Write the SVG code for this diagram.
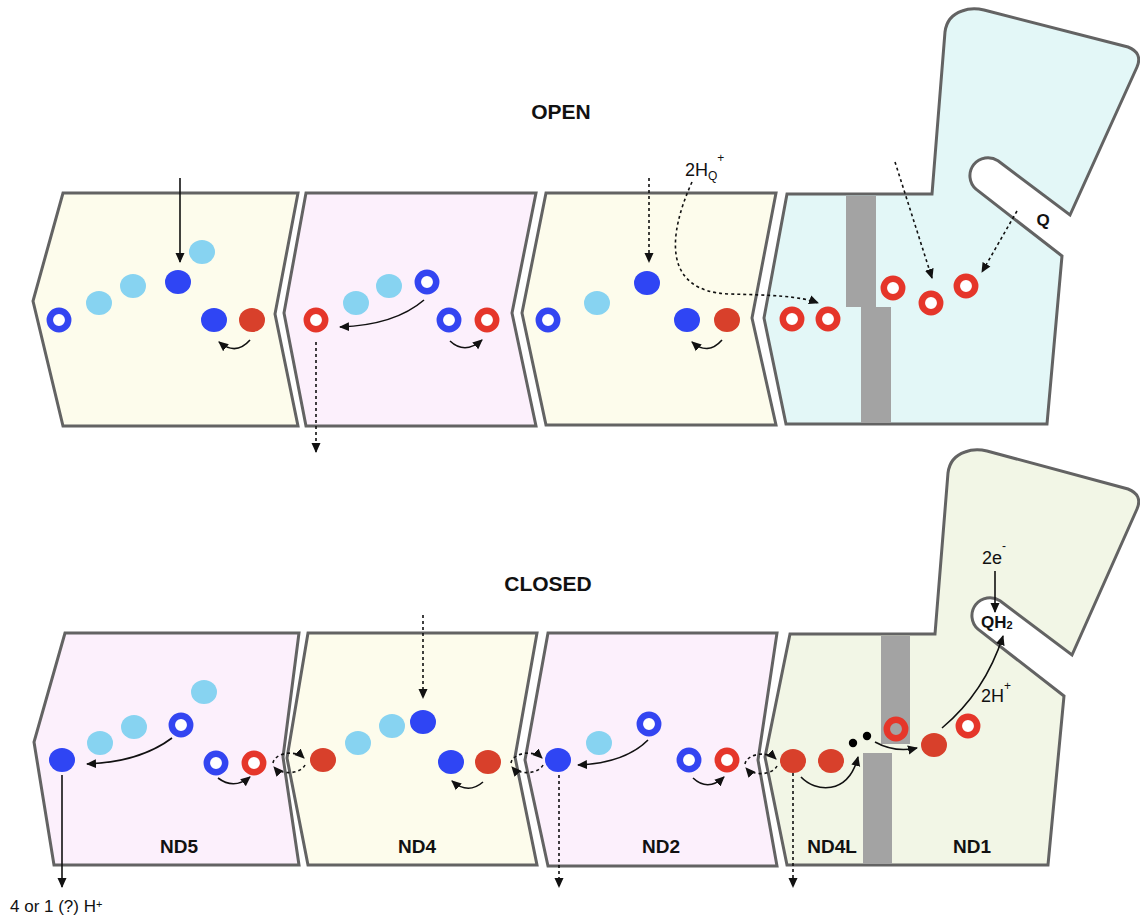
<svg xmlns="http://www.w3.org/2000/svg" width="1140" height="917" viewBox="0 0 1140 917">
  <defs>
    <marker id="ah" viewBox="0 0 10 10" refX="9" refY="5" markerWidth="10" markerHeight="10" markerUnits="userSpaceOnUse" orient="auto">
      <path d="M0,0.5 L10,5 L0,9.5 z" fill="#111"/>
    </marker>
    <style>
      .sub { stroke:#636363; stroke-width:3; stroke-linejoin:miter; }
      .yel { fill:#fdfcec; }
      .pnk { fill:#fcf0fc; }
      .cyn { fill:#e3f7f7; }
      .grn { fill:#f2f6e6; }
      .bar { fill:#a3a3a3; }
      .db { fill:#2f45f4; }
      .lb { fill:#87d3f1; }
      .rf { fill:#d8402b; }
      .br { fill:#fff; stroke:#3345f1; stroke-width:6.5; }
      .rr { fill:#fff; stroke:#e5362a; stroke-width:6.5; }
      .rro { fill:none; stroke:#e5362a; stroke-width:6.5; }
      .ar { fill:none; stroke:#111; stroke-width:1.6; marker-end:url(#ah); }
      .dt { stroke-dasharray:3 3; }
      .dot { fill:#000; }
      .title { font-family:"Liberation Sans", Arial, sans-serif; font-weight:bold; font-size:21px; text-anchor:middle; fill:#111; }
      .lbl { font-family:"Liberation Sans", Arial, sans-serif; font-weight:bold; font-size:19px; text-anchor:middle; fill:#111; }
      .txt { font-family:"Liberation Sans", Arial, sans-serif; font-size:18px; fill:#111; }
    </style>
  </defs>

  <rect width="1140" height="917" fill="#fff"/>

  <!-- state titles -->
  <text class="title" x="561" y="119">OPEN</text>
  <text class="title" x="548" y="591">CLOSED</text>

  <!-- ===== open state ===== -->
  <g id="open-nd5">
    <polygon class="sub yel" points="63,193 298,193 275,314 298,426 63,426 33,301"/>
    <circle class="br" cx="59" cy="320" r="9.2"/>
    <ellipse class="lb" cx="99" cy="303" rx="13" ry="12"/>
    <ellipse class="lb" cx="133" cy="286" rx="13" ry="12"/>
    <ellipse class="db" cx="178" cy="282" rx="13" ry="12"/>
    <ellipse class="lb" cx="202" cy="252" rx="13" ry="12"/>
    <ellipse class="db" cx="214" cy="320" rx="13" ry="12"/>
    <ellipse class="rf" cx="252" cy="320" rx="13" ry="12"/>
  </g>

  <g id="open-nd4">
    <polygon class="sub pnk" points="306,193 536,193 512,313 536,426 306,426 284,313"/>
    <circle class="rr" cx="316" cy="320" r="9.2"/>
    <ellipse class="lb" cx="356" cy="303" rx="13" ry="12"/>
    <ellipse class="lb" cx="389" cy="286" rx="13" ry="12"/>
    <circle class="br" cx="427" cy="282" r="9.2"/>
    <circle class="br" cx="449" cy="320" r="9.2"/>
    <circle class="rr" cx="487" cy="320" r="9.2"/>
  </g>

  <g id="open-nd2">
    <polygon class="sub yel" points="546,193 776,193 752,318 776,425 546,425 522,313"/>
    <circle class="br" cx="548" cy="320" r="9.2"/>
    <ellipse class="lb" cx="597" cy="303" rx="13" ry="12"/>
    <ellipse class="db" cx="647" cy="283" rx="13" ry="12"/>
    <ellipse class="db" cx="687" cy="320" rx="13" ry="12"/>
    <ellipse class="rf" cx="727" cy="320" rx="13" ry="12"/>
  </g>

  <g id="open-nd4l-nd1">
    <path class="sub cyn" d="M787,194 L932,194 L945,32 Q947,16 962,11 Q972,7 984,10 L1128,47 Q1143,53 1137,67 L1070,215 L998,160.8 A18,18 0 0 0 976,189.2 L1062,256 L1047,424 L786,424 L764,318 Z"/>
    <rect class="bar" x="846" y="196" width="30" height="111"/>
    <rect class="bar" x="861" y="307" width="30" height="116"/>
    <circle class="rr" cx="792" cy="319" r="9.2"/>
    <circle class="rr" cx="828" cy="319" r="9.2"/>
    <circle class="rr" cx="893" cy="288" r="9.2"/>
    <circle class="rr" cx="931" cy="303" r="9.2"/>
    <circle class="rr" cx="966" cy="286" r="9.2"/>
    <text class="lbl" x="1043" y="226" style="font-size:17px">Q</text>
  </g>

  <!-- ===== closed state ===== -->
  <g id="nd5">
    <polygon class="sub pnk" points="65,633 299,633 283,757 299,865 54,865 34,742"/>
    <ellipse class="db" cx="62" cy="760" rx="13" ry="12"/>
    <ellipse class="lb" cx="100" cy="743" rx="13" ry="12"/>
    <ellipse class="lb" cx="134" cy="727" rx="13" ry="12"/>
    <circle class="br" cx="181" cy="725" r="9.2"/>
    <ellipse class="lb" cx="204" cy="692" rx="13" ry="12"/>
    <circle class="br" cx="216" cy="763" r="9.2"/>
    <circle class="rr" cx="254" cy="763" r="9.2"/>
    <text class="lbl" x="179" y="853">ND5</text>
  </g>

  <g id="nd4">
    <polygon class="sub yel" points="308,633 537,633 515,757 537,865 308,865 287,758"/>
    <ellipse class="rf" cx="323" cy="760" rx="13" ry="12"/>
    <ellipse class="lb" cx="358" cy="743" rx="13" ry="12"/>
    <ellipse class="lb" cx="392" cy="726" rx="13" ry="12"/>
    <ellipse class="db" cx="423" cy="722" rx="13" ry="12"/>
    <ellipse class="db" cx="451" cy="762" rx="13" ry="12"/>
    <ellipse class="rf" cx="488" cy="762" rx="13" ry="12"/>
    <text class="lbl" x="417" y="853">ND4</text>
  </g>

  <g id="nd2">
    <polygon class="sub pnk" points="548,633 777,633 758,760 777,866 548,866 525,760"/>
    <ellipse class="db" cx="558" cy="760" rx="13" ry="12"/>
    <ellipse class="lb" cx="599" cy="743" rx="13" ry="12"/>
    <circle class="br" cx="649" cy="724" r="9.2"/>
    <circle class="br" cx="689" cy="760" r="9.2"/>
    <circle class="rr" cx="727" cy="760" r="9.2"/>
    <text class="lbl" x="661" y="853">ND2</text>
  </g>

  <g id="nd4l-nd1">
    <path class="sub grn" d="M790,634 L935,634 L948,473 Q950,457 965,452 Q975,448 987,451 L1128,489 Q1143,495 1137,509 L1072,655 L1000,600.8 A18,18 0 0 0 978,629.2 L1064,696 L1048,865 L787,865 L765,757 Z"/>
    <rect class="bar" x="881" y="636" width="29" height="108"/>
    <rect class="bar" x="863" y="753" width="29" height="111"/>
    <ellipse class="rf" cx="793" cy="761" rx="13" ry="12"/>
    <ellipse class="rf" cx="831" cy="761" rx="13" ry="12"/>
    <circle class="dot" cx="853" cy="743" r="4.2"/>
    <circle class="dot" cx="867" cy="736" r="4.2"/>
    <circle class="rro" cx="896" cy="729" r="9.2"/>
    <ellipse class="rf" cx="934" cy="745" rx="13" ry="12"/>
    <circle class="rr" cx="968" cy="726" r="9.2"/>
    <text class="lbl" x="832" y="853">ND4L</text>
    <text class="lbl" x="972" y="853">ND1</text>
    <text class="lbl" x="981" y="628" style="text-anchor:start;font-size:17px">QH<tspan style="font-size:11px" dy="1">2</tspan></text>
  </g>

  <!-- ===== connectors ===== -->
  <g id="connectors">
    <!-- open state -->
    <path class="ar" d="M180,178 L180,262"/>
    <path class="ar" d="M250,340 Q236,356 219,342"/>
    <path class="ar" d="M424,300 Q395,325 340,327"/>
    <path class="ar" d="M450,341 Q465,355 482,340"/>
    <path class="ar dt" d="M316,342 L316,452"/>
    <path class="ar dt" d="M649,178 L649,262"/>
    <path class="ar" d="M722,340 Q708,356 692,342"/>
    <path class="ar dt" d="M692,182 C668,235 662,292 730,294 C770,295 800,296 818,303"/>
    <path class="ar dt" d="M895,162 L932,278"/>
    <path class="ar dt" d="M1017,211 L982,272"/>

    <!-- closed state -->
    <path class="ar" d="M62,775 L62,887"/>
    <path class="ar" d="M172,738 Q140,762 87,764"/>
    <path class="ar" d="M218,778 Q234,790 250,777"/>
    <path class="ar dt" d="M273,763 A17,11 0 0 1 304,758"/>
    <path class="ar dt" d="M305,765 A17,11 0 0 1 274,767"/>

    <path class="ar dt" d="M423,615 L423,698"/>
    <path class="ar" d="M483,782 Q468,795 452,781"/>
    <path class="ar dt" d="M511,763 A17,11 0 0 1 542,758"/>
    <path class="ar dt" d="M543,765 A17,11 0 0 1 512,767"/>

    <path class="ar" d="M648,740 Q625,763 578,765"/>
    <path class="ar" d="M693,778 Q708,792 724,777"/>
    <path class="ar dt" d="M559,775 L559,887"/>
    <path class="ar dt" d="M745,764 A17,11 0 0 1 776,759"/>
    <path class="ar dt" d="M777,766 A17,11 0 0 1 746,768"/>

    <path class="ar dt" d="M793,773 L793,887"/>
    <path class="ar" d="M801,777 C815,792 848,796 858,757"/>
    <path class="ar" d="M875,742 Q895,753 917,748"/>
    <path class="ar" d="M942,728 Q985,692 1003,636"/>
    <path class="ar" d="M995,571 L995,612"/>
  </g>

  <!-- free labels -->
  <text class="txt" x="685" y="176">2H<tspan style="font-size:12px" dy="4">Q</tspan><tspan style="font-size:12px" dy="-18">+</tspan></text>
  <text class="txt" x="982" y="564">2e<tspan style="font-size:12px" dy="-14">-</tspan></text>
  <text class="txt" x="981" y="702">2H<tspan style="font-size:12px" dy="-12">+</tspan></text>
  <text class="txt" x="10" y="912" style="font-size:17px">4 or 1 (?) H<tspan style="font-size:11px" dy="-4">+</tspan></text>
</svg>
